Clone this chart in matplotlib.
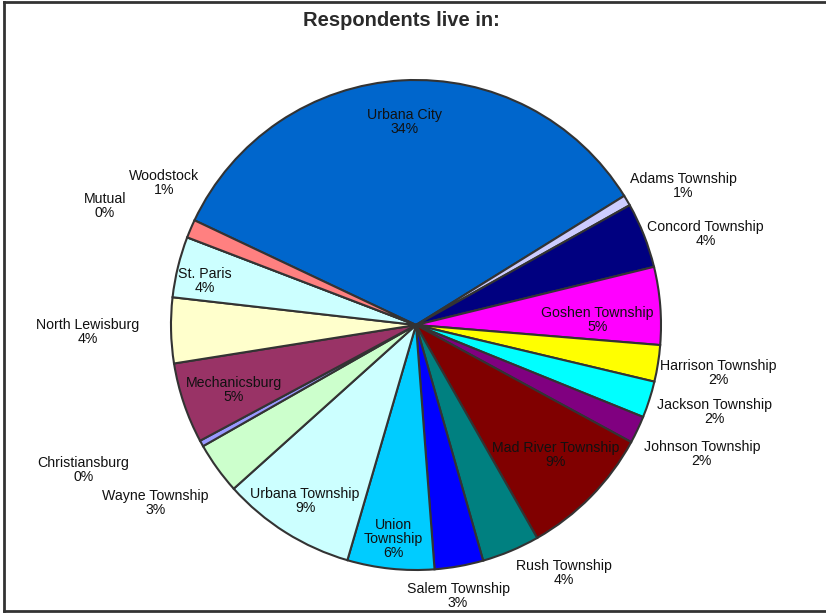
import numpy as np
import matplotlib
matplotlib.use("Agg")
import matplotlib.pyplot as plt
from matplotlib.lines import Line2D

plt.rcParams['font.family'] = ['Liberation Sans', 'DejaVu Sans']

# slices in clockwise order, starting with Urbana City
places = ["Urbana City", "Adams Township", "Concord Township", "Goshen Township",
          "Harrison Township", "Jackson Township", "Johnson Township",
          "Mad River Township", "Rush Township", "Salem Township", "Union Township",
          "Urbana Township", "Wayne Township", "Christiansburg", "Mechanicsburg",
          "North Lewisburg", "St. Paris", "Mutual", "Woodstock"]
shares = [34.0, 0.7, 4.3, 5.1, 2.4, 2.4, 1.8, 8.8, 3.8, 3.2, 5.7,
          8.8, 3.4, 0.4, 5.3, 4.3, 4.0, 0.0, 1.2]
colors = ["#0066CC", "#CCCCFF", "#000080", "#FF00FF", "#FFFF00", "#00FFFF",
          "#800080", "#800000", "#008080", "#0000FF", "#00CCFF", "#CCFFFF",
          "#CCFFCC", "#9999FF", "#993366", "#FFFFCC", "#CCFFFF", "#660066",
          "#FF8080"]
label_text = {"Union Township": "Union\nTownship"}

# label placement: radius (fraction of pie radius) and clockwise angle shift (deg)
label_r = [0.83, 1.23, 1.24, 0.74, 1.25, 1.27, 1.28, 0.78, 1.18, 1.12, 0.88,
           0.85, 1.29, 1.48, 0.79, 1.34, 0.88, 1.36, 1.18]
label_shift = [0, 3, 4, 3, 0, -1.5, -1, -1.5, -8, 1.3, 0,
               0, 1.4, 5.4, -1, 0, -2, 0, 6.4]

W, H = 826, 613
cx, cy, R = 416, H - 325, 245

fig = plt.figure(figsize=(W / 100, H / 100), dpi=100)
ax = fig.add_axes([0, 0, 1, 1])
ax.set_xlim(0, W)
ax.set_ylim(0, H)
ax.set_aspect('equal')
ax.axis('off')

wedges, _ = ax.pie(shares, colors=colors, startangle=154.7, counterclock=False,
                   center=(cx, cy), radius=R, normalize=True,
                   wedgeprops=dict(edgecolor='#333333', linewidth=1.5))
ax.set_xlim(0, W)
ax.set_ylim(0, H)

total = sum(shares)
for w, name, v, r, d in zip(wedges, places, shares, label_r, label_shift):
    mid = np.deg2rad((w.theta1 + w.theta2) / 2 - d)
    x = cx + r * R * np.cos(mid)
    y = cy + r * R * np.sin(mid)
    txt = f"{label_text.get(name, name)}\n{round(v / total * 100):.0f}%"
    ax.text(x, y, txt, ha='center', va='center', fontsize=10.2, color='#111111',
            linespacing=1.0)

fig.text(401 / W, 1 - 20 / H, "Respondents live in:", ha='center', va='center',
         fontsize=14.5, fontweight='bold', color='#2a2a2a')

# chart border
for xs, ys in [([4, 4], [2, 611]), ([4, W], [2, 2]), ([4, W], [611, 611])]:
    fig.add_artist(Line2D([x / W for x in xs], [1 - y / H for y in ys],
                          color='#333333', linewidth=2, transform=fig.transFigure))

fig.savefig("out.png", dpi=100)
